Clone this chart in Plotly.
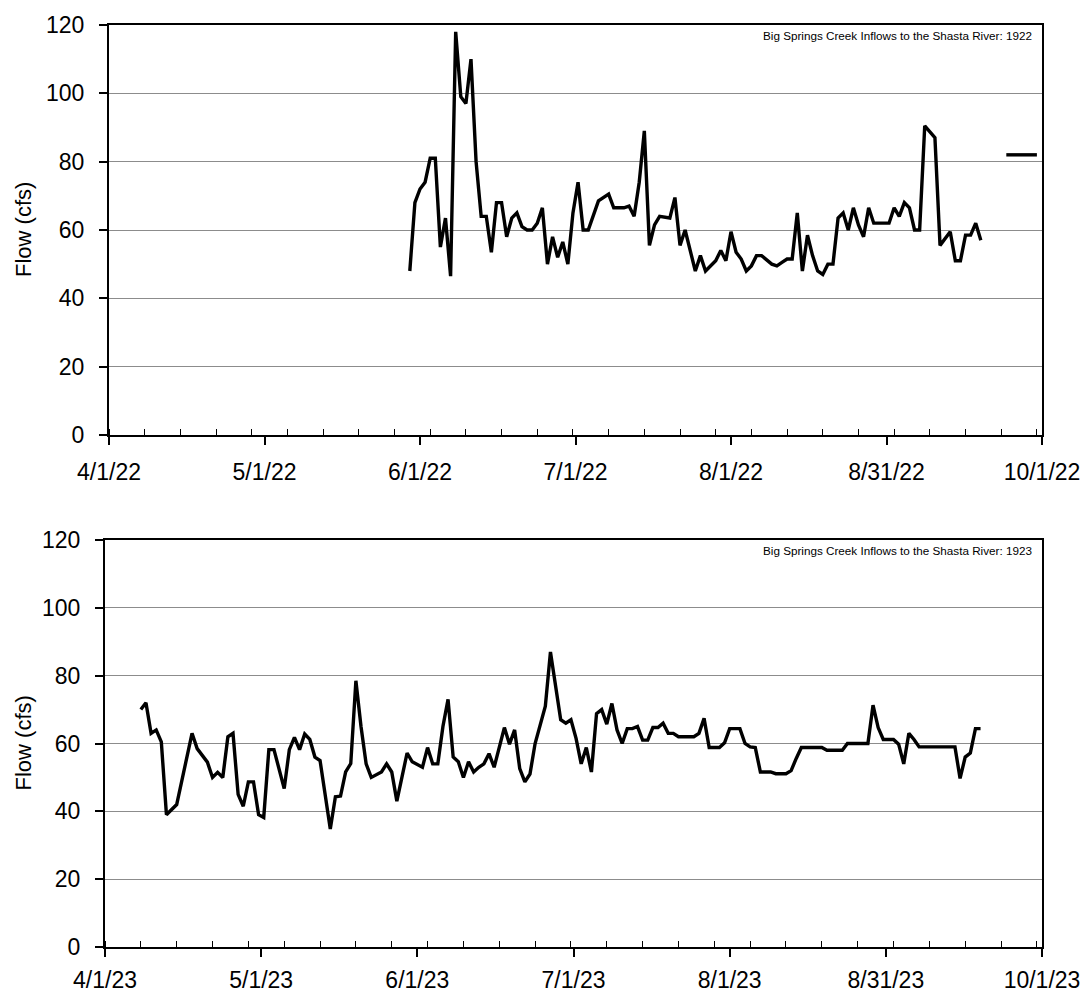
import plotly.graph_objects as go

# ---------------- 1922 ----------------
dates_1922 = [
    "1922-05-30", "1922-05-31", "1922-06-01", "1922-06-02", "1922-06-03", "1922-06-04",
    "1922-06-05", "1922-06-06", "1922-06-07", "1922-06-08", "1922-06-09", "1922-06-10",
    "1922-06-11", "1922-06-12", "1922-06-13", "1922-06-14", "1922-06-15", "1922-06-16",
    "1922-06-17", "1922-06-18", "1922-06-19", "1922-06-20", "1922-06-21", "1922-06-22",
    "1922-06-23", "1922-06-24", "1922-06-25", "1922-06-26", "1922-06-27", "1922-06-28",
    "1922-06-29", "1922-06-30", "1922-07-01", "1922-07-02", "1922-07-03", "1922-07-04",
    "1922-07-06", "1922-07-08", "1922-07-09", "1922-07-11", "1922-07-12", "1922-07-13",
    "1922-07-14", "1922-07-15", "1922-07-16", "1922-07-17", "1922-07-18", "1922-07-20",
    "1922-07-21", "1922-07-22", "1922-07-23", "1922-07-25", "1922-07-26", "1922-07-27",
    "1922-07-29", "1922-07-30", "1922-07-31", "1922-08-01", "1922-08-02", "1922-08-03",
    "1922-08-04", "1922-08-05", "1922-08-06", "1922-08-07", "1922-08-09", "1922-08-10",
    "1922-08-11", "1922-08-12", "1922-08-13", "1922-08-14", "1922-08-15", "1922-08-16",
    "1922-08-17", "1922-08-18", "1922-08-19", "1922-08-20", "1922-08-21", "1922-08-22",
    "1922-08-23", "1922-08-24", "1922-08-25", "1922-08-26", "1922-08-27", "1922-08-28",
    "1922-08-29", "1922-09-01", "1922-09-02", "1922-09-03", "1922-09-04", "1922-09-05",
    "1922-09-06", "1922-09-07", "1922-09-08", "1922-09-10", "1922-09-11", "1922-09-13",
    "1922-09-14", "1922-09-15", "1922-09-16", "1922-09-17", "1922-09-18", "1922-09-19",
    "1922-09-21",
    "1922-09-24", "1922-09-25", "1922-09-26", "1922-09-27", "1922-09-28", "1922-09-29",
    "1922-09-30",
]
flow_1922 = [
    48, 68, 72, 74, 81, 81,
    55, 63.5, 46.5, 118, 99, 97,
    110, 80, 64, 64, 53.5, 68,
    68, 58, 63.5, 65, 61, 60,
    60, 62, 66.5, 50, 58, 52,
    56.5, 50, 65, 74, 60, 60,
    68.5, 70.5, 66.5, 66.5, 67, 64,
    74, 89, 55.5, 61.5, 64, 63.5,
    69.5, 55.5, 60, 48, 52.5, 48,
    51, 54, 51, 59.5, 53.5, 51.5,
    48, 49.5, 52.5, 52.5, 50, 49.5,
    50.5, 51.5, 51.5, 65, 48, 58.5,
    52.5, 48, 47, 50, 50, 63.5,
    65, 60, 66.5, 61.5, 58, 66.5,
    62, 62, 66.5, 64, 68, 66.5,
    60, 60, 90.5, 87, 55.5, 59.5,
    51, 51, 58.5, 58.5, 62, 57,
    None,
    82, 82, 82, 82, 82, 82,
    82,
]

# ---------------- 1923 ----------------
dates_1923 = [
    "1923-04-08", "1923-04-09", "1923-04-10", "1923-04-11", "1923-04-12", "1923-04-13",
    "1923-04-15", "1923-04-18", "1923-04-19", "1923-04-21", "1923-04-22", "1923-04-23",
    "1923-04-24", "1923-04-25", "1923-04-26", "1923-04-27", "1923-04-28", "1923-04-29",
    "1923-04-30", "1923-05-01", "1923-05-02", "1923-05-03", "1923-05-04", "1923-05-05",
    "1923-05-06", "1923-05-07", "1923-05-08", "1923-05-09", "1923-05-10", "1923-05-11",
    "1923-05-12", "1923-05-13", "1923-05-15", "1923-05-16", "1923-05-17", "1923-05-18",
    "1923-05-19", "1923-05-20", "1923-05-21", "1923-05-22", "1923-05-23", "1923-05-25",
    "1923-05-26", "1923-05-27", "1923-05-28", "1923-05-30", "1923-05-31", "1923-06-02",
    "1923-06-03", "1923-06-04", "1923-06-05", "1923-06-06", "1923-06-07", "1923-06-08",
    "1923-06-09", "1923-06-10", "1923-06-11", "1923-06-12", "1923-06-13", "1923-06-14",
    "1923-06-15", "1923-06-16", "1923-06-18", "1923-06-19", "1923-06-20", "1923-06-21",
    "1923-06-22", "1923-06-23", "1923-06-24", "1923-06-26", "1923-06-27", "1923-06-29",
    "1923-06-30", "1923-07-01", "1923-07-02", "1923-07-03", "1923-07-04", "1923-07-05",
    "1923-07-06", "1923-07-07", "1923-07-08", "1923-07-09", "1923-07-10", "1923-07-11",
    "1923-07-12", "1923-07-13", "1923-07-14", "1923-07-15", "1923-07-16", "1923-07-17",
    "1923-07-18", "1923-07-19", "1923-07-20", "1923-07-21", "1923-07-22", "1923-07-25",
    "1923-07-26", "1923-07-27", "1923-07-28", "1923-07-30", "1923-07-31", "1923-08-01",
    "1923-08-03", "1923-08-04", "1923-08-05", "1923-08-06", "1923-08-07", "1923-08-09",
    "1923-08-10", "1923-08-12", "1923-08-13", "1923-08-14", "1923-08-15", "1923-08-19",
    "1923-08-20", "1923-08-23", "1923-08-24", "1923-08-28", "1923-08-29", "1923-08-30",
    "1923-08-31", "1923-09-02", "1923-09-03", "1923-09-04", "1923-09-05", "1923-09-06",
    "1923-09-07", "1923-09-14", "1923-09-15", "1923-09-16", "1923-09-17", "1923-09-18",
    "1923-09-19",
]
flow_1923 = [
    70, 72, 63, 64, 60.5, 39,
    42, 63, 58.5, 54.5, 50, 51.5,
    50, 62, 63, 45, 41.5, 48.7,
    48.7, 39, 38.2, 58.2, 58.2, 52,
    46.7, 58.2, 61.8, 58.2, 62.8, 61.2,
    56, 55, 34.8, 44.3, 44.5, 51.6,
    54.1, 78.5, 65, 54, 50, 51.6,
    54, 51.6, 43, 57.2, 54.6, 53,
    58.8, 54, 54, 65, 73, 56,
    54.6, 50, 54.6, 51.6, 53, 54,
    57, 53, 64.7, 59.8, 64, 52.6,
    48.7, 51, 60, 71, 87, 67,
    66, 67, 61.5, 54, 58.8, 51.6,
    68.8, 70, 65.7, 71.8, 64, 60,
    64.4, 64.4, 65, 61, 61, 64.7,
    64.7, 66, 63, 63, 62, 62,
    63, 67.4, 58.8, 58.8, 60.2, 64.4,
    64.4, 60, 59, 58.8, 51.6, 51.6,
    51.1, 51.1, 52, 55.6, 58.8, 58.8,
    58, 58, 60, 60, 71.3, 64.7,
    61.2, 61.2, 59.8, 54, 63, 61.2,
    59, 59, 49.7, 56, 57.2, 64.4,
    64.4,
]

tickvals_1922 = ["1922-04-01", "1922-05-01 12:00", "1922-06-01", "1922-07-01 12:00",
                 "1922-08-01", "1922-08-31 12:00", "1922-10-01"]
ticktext_1922 = ["4/1/22", "5/1/22", "6/1/22", "7/1/22", "8/1/22", "8/31/22", "10/1/22"]
tickvals_1923 = ["1923-04-01", "1923-05-01 12:00", "1923-06-01", "1923-07-01 12:00",
                 "1923-08-01", "1923-08-31 12:00", "1923-10-01"]
ticktext_1923 = ["4/1/23", "5/1/23", "6/1/23", "7/1/23", "8/1/23", "8/31/23", "10/1/23"]

titles = ["Big Springs Creek Inflows to the Shasta River: 1922",
          "Big Springs Creek Inflows to the Shasta River: 1923"]

FONT = "Liberation Sans, Arial, Helvetica, sans-serif"
# the page body adds an 8 px margin, so the figure is 8 px smaller and
# every pixel position below is given in figure coordinates (page - 8)
W, H = 1082, 990
OFF = 8

fig = go.Figure()
fig.add_trace(go.Scatter(x=dates_1922, y=flow_1922, mode="lines",
                         line=dict(color="black", width=3.4), connectgaps=False,
                         xaxis="x", yaxis="y", showlegend=False))
fig.add_trace(go.Scatter(x=dates_1923, y=flow_1923, mode="lines",
                         line=dict(color="black", width=3.4),
                         xaxis="x2", yaxis="y2", showlegend=False))

week = 7 * 86400000


def xaxis(domain, y_anchor, rng, tv, tt, tick0, standoff):
    return dict(
        domain=domain, anchor=y_anchor, type="date", range=rng, automargin=False,
        tickmode="array", tickvals=tv, ticktext=tt,
        ticks="outside", ticklen=8, tickwidth=1.5, tickcolor="black",
        showline=True, linecolor="black", linewidth=2, mirror=True,
        showgrid=False, zeroline=False,
        tickfont=dict(family=FONT, size=23, color="black"),
        ticklabelstandoff=standoff,
        minor=dict(tickmode="linear", tick0=tick0, dtick=week, ticks="inside",
                   ticklen=6, tickwidth=1.2, tickcolor="black", showgrid=False),
    )


def yaxis(domain, x_anchor):
    return dict(
        domain=domain, anchor=x_anchor, range=[0, 120], tickmode="linear",
        automargin=False,
        tick0=0, dtick=20, ticks="outside", ticklen=8, tickwidth=1.5,
        tickcolor="black", showline=True, linecolor="black", linewidth=2,
        mirror=True, showgrid=True, gridcolor="#8c8c8c", gridwidth=1,
        zeroline=False, tickfont=dict(family=FONT, size=23, color="black"),
        ticklabelstandoff=10,
    )


def px_x(p):
    return (p - OFF) / W


def px_ydom(top, bottom):
    return [1 - (bottom - OFF) / H, 1 - (top - OFF) / H]


top_dom = px_ydom(25, 435)
bot_dom = px_ydom(540, 947)

fig.update_layout(
    width=W, height=H,
    margin=dict(l=0, r=0, t=0, b=0, autoexpand=False),
    paper_bgcolor="white", plot_bgcolor="white",
    xaxis=xaxis([px_x(109), px_x(1042)], "y", ["1922-04-01", "1922-10-01"],
                tickvals_1922, ticktext_1922, "1922-04-01", 7),
    yaxis=yaxis(top_dom, "x"),
    xaxis2=xaxis([px_x(105), px_x(1042)], "y2", ["1923-04-01", "1923-10-01"],
                  tickvals_1923, ticktext_1923, "1923-04-01", 3),
    yaxis2=yaxis(bot_dom, "x2"),
    showlegend=False,
)

for i, dom in enumerate([top_dom, bot_dom]):
    xr = "x domain" if i == 0 else "x2 domain"
    yr = "y domain" if i == 0 else "y2 domain"
    fig.add_annotation(text=titles[i], xref=xr, yref=yr, x=0.991, y=0.995,
                       xanchor="right", yanchor="top", showarrow=False,
                       font=dict(family=FONT, size=11.7, color="black"))
    fig.add_annotation(text="Flow (cfs)", xref="paper", yref="paper",
                       x=px_x(23), y=(dom[0] + dom[1]) / 2, textangle=-90,
                       xanchor="center", yanchor="middle", showarrow=False,
                       font=dict(family=FONT, size=22, color="black"))

fig.write_html("out.html")
